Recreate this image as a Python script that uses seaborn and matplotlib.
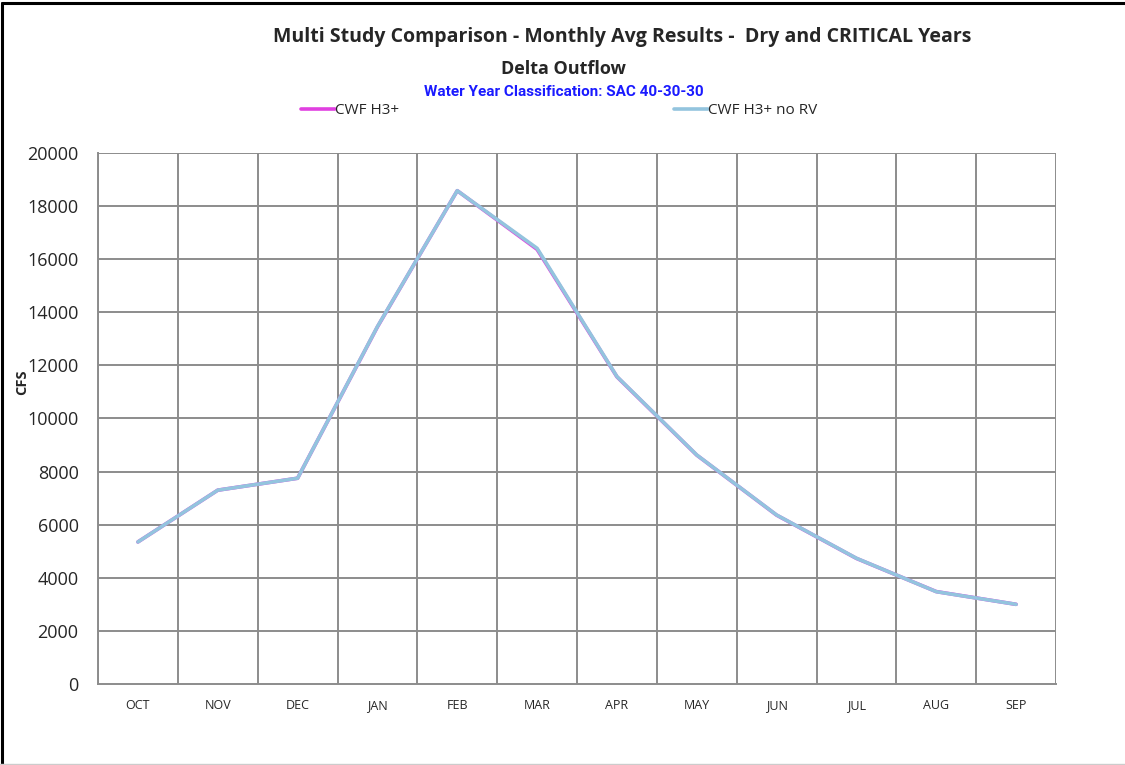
import seaborn as sns
import matplotlib.pyplot as plt
import pandas as pd
from matplotlib.lines import Line2D

months = ['OCT', 'NOV', 'DEC', 'JAN', 'FEB', 'MAR', 'APR', 'MAY', 'JUN', 'JUL', 'AUG', 'SEP']
cwf_h3 = [5350, 7300, 7750, 13450, 18580, 16370, 11570, 8620, 6360, 4730, 3480, 3000]
cwf_h3_no_rv = [5350, 7300, 7750, 13460, 18580, 16410, 11580, 8625, 6365, 4735, 3477, 3000]
series_names = ['CWF H3+', 'CWF H3+ no RV']
series_colors = ['#e040e0', '#93c4de']

df = pd.DataFrame({'month': months * 2,
                   'cfs': cwf_h3 + cwf_h3_no_rv,
                   'study': [series_names[0]] * 12 + [series_names[1]] * 12})
df['pos'] = list(range(12)) * 2

sns.set_style('white')
plt.rcParams['font.family'] = ['Open Sans', 'DejaVu Sans']

fig = plt.figure(figsize=(11.25, 7.65), dpi=100)
ax = fig.add_axes([0.0871, 0.1059, 0.8516, 0.6941])

sns.lineplot(data=df, x='pos', y='cfs', hue='study', palette=series_colors,
             linewidth=2.6, legend=False, ax=ax, sort=False)

ax.set_xlim(-0.5, 11.5)
ax.set_ylim(0, 20000)
ax.set_yticks(range(0, 20001, 2000))
ax.set_yticklabels([str(v) for v in range(0, 20001, 2000)], fontsize=13)
ax.set_xticks(range(12))
ax.set_xticklabels(months, fontsize=9)
ax.set_xticks([i - 0.5 for i in range(13)], minor=True)
ax.tick_params(axis='x', which='major', length=0, pad=11)
ax.tick_params(axis='x', which='minor', length=5, width=1.2, color='#888888', direction='out')
ax.tick_params(axis='y', length=6, width=1.2, color='#888888', direction='out', pad=8)
ax.grid(False)
for x in [i - 0.5 for i in range(13)]:
    ax.axvline(x, color='#8c8c8c', lw=1.4, zorder=0)
for y in range(2000, 20001, 2000):
    ax.axhline(y, color='#8c8c8c', lw=1.4, zorder=0)
for s in ['left', 'bottom']:
    ax.spines[s].set_color('#8c8c8c')
    ax.spines[s].set_linewidth(1.4)
for s in ['top', 'right']:
    ax.spines[s].set_visible(False)
ax.set_xlabel('')
ax.set_ylabel('')
fig.text(0.02, 0.5, 'CFS', rotation=90, fontsize=10.5, fontweight='bold', ha='center', va='center')

fig.text(0.553, 0.951, 'Multi Study Comparison - Monthly Avg Results -  Dry and CRITICAL Years',
         fontsize=14, fontweight='bold', ha='center', va='center')
fig.text(0.501, 0.910, 'Delta Outflow', fontsize=13, fontweight='bold', ha='center', va='center')
fig.text(0.501, 0.880, 'Water Year Classification: SAC 40-30-30', fontsize=11, fontweight='bold',
         color='#1a1aff', ha='center', va='center',
         family=['Liberation Sans Narrow', 'Roboto', 'DejaVu Sans'])

handles = [Line2D([], [], color=c, lw=2.6) for c in series_colors]
fig.legend(handles, series_names, loc='center', bbox_to_anchor=(0.497, 0.855), ncol=2,
           frameon=False, fontsize=11, handlelength=2.2, handletextpad=0.0, columnspacing=18)

# outer chart border
fig.add_artist(Line2D([0.002, 0.002], [0.0, 0.996], color='black', lw=2.2, transform=fig.transFigure))
fig.add_artist(Line2D([0.002, 1.0], [0.996, 0.996], color='black', lw=2.2, transform=fig.transFigure))
fig.add_artist(Line2D([0.0, 1.0], [0.001, 0.001], color='#cccccc', lw=1, transform=fig.transFigure))

fig.savefig('out.png', dpi=100)
